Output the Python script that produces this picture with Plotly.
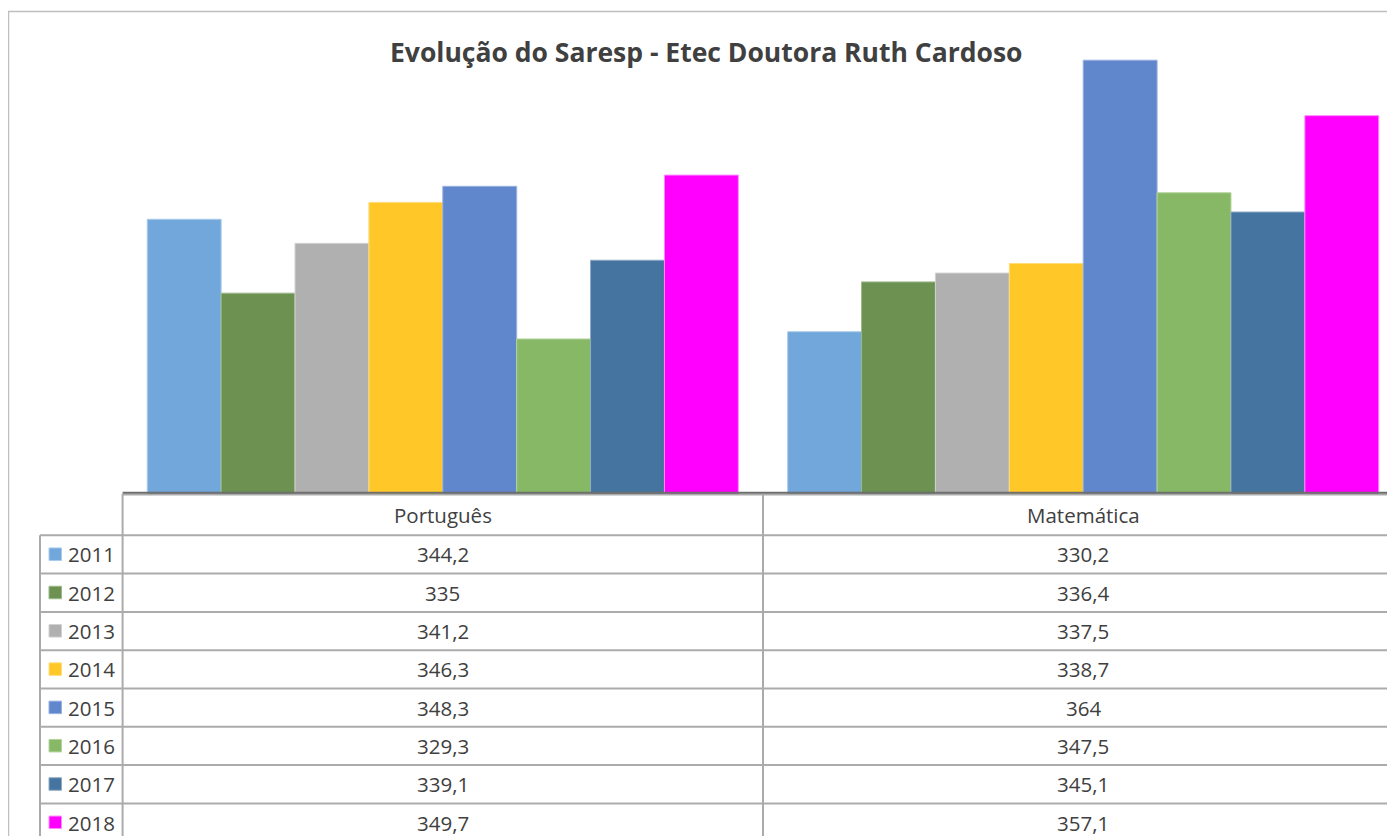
import plotly.graph_objects as go

title = "Evolução do Saresp - Etec Doutora Ruth Cardoso"
categories = ["Português", "Matemática"]
years = ["2011", "2012", "2013", "2014", "2015", "2016", "2017", "2018"]
portugues = [344.2, 335, 341.2, 346.3, 348.3, 329.3, 339.1, 349.7]
matematica = [330.2, 336.4, 337.5, 338.7, 364, 347.5, 345.1, 357.1]
colors = ["#71A7DB", "#6C9150", "#B0B0B0", "#FFC828", "#6086CC", "#87B866", "#44749F", "#FF00FF"]
edge_colors = ["#A9CBEC", "#9DB98B", "#D0D0D0", "#FFDC7A", "#98B0E0", "#B3D49E", "#8EA9C4", "#FF8CFF"]

OFF = 8  # page body margin
W, H = 1395 - OFF, 836 - OFF
def px(x):
    return (x - OFF) / W
def py(y):
    return 1 - (y - OFF) / H

fig = go.Figure()
for i, yr in enumerate(years):
    fig.add_trace(go.Bar(
        name=yr, x=categories, y=[portugues[i], matematica[i]],
        marker=dict(color=colors[i], line=dict(color=edge_colors[i], width=1)),
        showlegend=False, hoverinfo="skip",
    ))

plot_left = 122.6
cat_w = 640.4
x_end = -0.5 + (W + OFF - plot_left) / cat_w

shapes = []
anns = []
grid = "#ABABAB"
txt = "#404040"
font = "Open Sans"
fs = 20.5
RIGHT = W + OFF + 20
BOTTOM = H + OFF + 20

# outer chart border
shapes.append(dict(type="line", xref="paper", yref="paper", x0=px(8), x1=px(RIGHT), y0=py(11.5), y1=py(11.5),
                   line=dict(color="#BFBFBF", width=1.5)))
shapes.append(dict(type="line", xref="paper", yref="paper", x0=px(8.5), x1=px(8.5), y0=py(11.5), y1=py(BOTTOM),
                   line=dict(color="#BFBFBF", width=1.5)))

# table lines
row_top = 535.3
row_h = 38.3
n = len(years)
shapes.append(dict(type="line", xref="paper", yref="paper", x0=px(plot_left), x1=px(RIGHT), y0=py(494.5), y1=py(494.5),
                   line=dict(color=grid, width=2)))
for r in range(n + 1):
    y = row_top + r * row_h
    shapes.append(dict(type="line", xref="paper", yref="paper", x0=px(40), x1=px(RIGHT), y0=py(y), y1=py(y),
                       line=dict(color=grid, width=2)))
shapes.append(dict(type="line", xref="paper", yref="paper", x0=px(40), x1=px(40), y0=py(row_top), y1=py(BOTTOM),
                   line=dict(color=grid, width=2)))
for vx in [plot_left, plot_left + cat_w]:
    shapes.append(dict(type="line", xref="paper", yref="paper", x0=px(vx), x1=px(vx), y0=py(494), y1=py(BOTTOM),
                       line=dict(color=grid, width=2)))
# axis baseline
shapes.append(dict(type="line", xref="paper", yref="paper", x0=px(plot_left), x1=px(RIGHT), y0=py(492.8), y1=py(492.8),
                   line=dict(color="#6E6E6E", width=2)))

for j, c in enumerate(categories):
    cx = plot_left + cat_w * (j + 0.5)
    anns.append(dict(x=px(cx), y=py(515.5), xref="paper", yref="paper", text=c, showarrow=False,
                     xanchor="center", yanchor="middle", font=dict(family=font, size=fs, color=txt)))

def fmt(v):
    s = ("%.1f" % v).rstrip("0").rstrip(".")
    return s.replace(".", ",")

for r, yr in enumerate(years):
    cy = row_top + (r + 0.5) * row_h
    shapes.append(dict(type="rect", xref="paper", yref="paper", x0=px(49), x1=px(61.5), y0=py(cy - 6.5), y1=py(cy + 6),
                       fillcolor=colors[r], line=dict(color=edge_colors[r], width=1)))
    anns.append(dict(x=px(66), y=py(cy), xref="paper", yref="paper", text=yr, showarrow=False,
                     xanchor="left", yanchor="middle", font=dict(family=font, size=fs, color=txt)))
    for j, vals in enumerate([portugues, matematica]):
        cx = plot_left + cat_w * (j + 0.5)
        anns.append(dict(x=px(cx), y=py(cy), xref="paper", yref="paper", text=fmt(vals[r]), showarrow=False,
                         xanchor="center", yanchor="middle", font=dict(family=font, size=fs, color=txt)))

anns.append(dict(x=px(706), y=py(52), xref="paper", yref="paper", text="<b>" + title + "</b>", showarrow=False,
                 xanchor="center", yanchor="middle", font=dict(family=font, size=26.5, color=txt)))

fig.update_layout(
    width=W, height=H, margin=dict(l=0, r=0, t=0, b=0),
    paper_bgcolor="white", plot_bgcolor="white",
    barmode="group", bargap=0.077, bargroupgap=0,
    xaxis=dict(domain=[px(plot_left), 1], range=[-0.5, x_end], showticklabels=False, showgrid=False,
               zeroline=False, showline=False, ticks=""),
    yaxis=dict(domain=[py(494), py(12)], range=[310, 370], showticklabels=False, showgrid=False,
               zeroline=False, showline=False, ticks=""),
    shapes=shapes, annotations=anns,
)

fig.write_html("out.html")
